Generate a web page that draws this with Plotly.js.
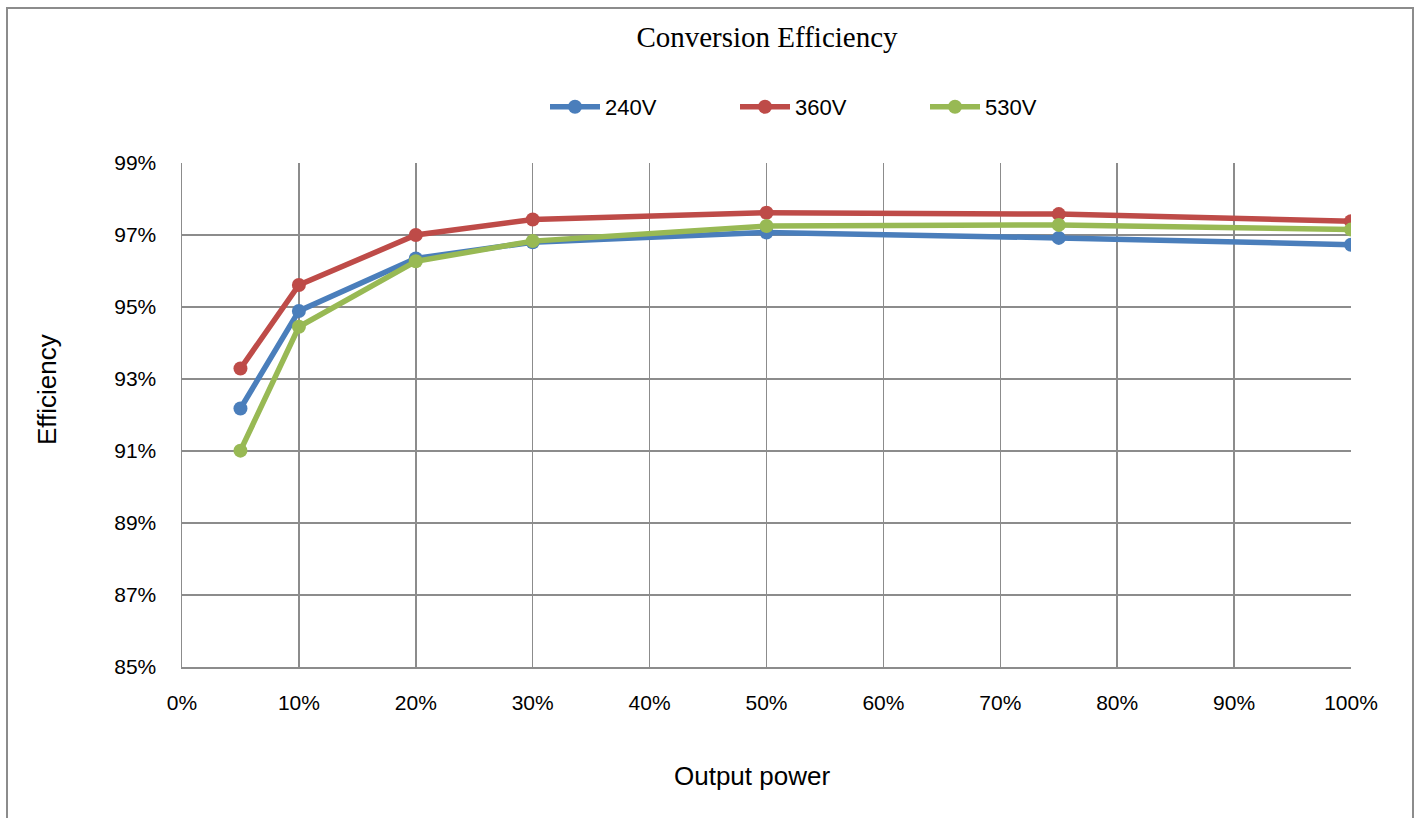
<!DOCTYPE html>
<html>
<head>
<meta charset="utf-8">
<script src="https://cdn.plot.ly/plotly-3.0.1.min.js"></script>
<style>
html,body{margin:0;padding:0;background:#fff;overflow:hidden;}
#chart{width:1421px;height:818px;}
</style>
</head>
<body>
<div id="chart"></div>
<script>
// Output power (%)
const outputPower = [5, 10, 20, 30, 50, 75, 100];
// Efficiency (%)
const eff240 = [92.18, 94.89, 96.35, 96.80, 97.07, 96.92, 96.73];
const eff360 = [93.29, 95.61, 97.00, 97.43, 97.62, 97.58, 97.38];
const eff530 = [91.01, 94.45, 96.27, 96.83, 97.25, 97.28, 97.15];
const seriesNames = ['240V', '360V', '530V'];
const seriesColors = ['#4A7EBB', '#BE4B48', '#98B954'];

const allSeries = [eff240, eff360, eff530];
const traces = allSeries.map((ys, i) => ({
  type: 'scatter',
  mode: 'lines+markers',
  name: seriesNames[i],
  x: outputPower,
  y: ys,
  line: {color: seriesColors[i], width: 5.5},
  marker: {color: seriesColors[i], size: 14}
}));

const gridColor = '#8c8c8c';
const sans = 'Liberation Sans, Arial, sans-serif';
const tickFont = {family: sans, size: 21, color: '#000'};

const layout = {
  width: 1421,
  height: 818,
  margin: {l: 182, r: 70, t: 163, b: 151},
  paper_bgcolor: '#fff',
  plot_bgcolor: '#fff',
  showlegend: true,
  title: {
    text: 'Conversion Efficiency',
    font: {family: 'Liberation Serif, DejaVu Serif, serif', size: 29, color: '#000'},
    x: (767 - 182) / 1169, xanchor: 'center', xref: 'paper',
    y: 1 - 37 / 818, yref: 'container', yanchor: 'middle'
  },
  legend: {
    orientation: 'h',
    x: (545 - 182) / 1169, xanchor: 'left',
    y: (667 - 107) / 504, yanchor: 'middle',
    font: {family: sans, size: 22, color: '#000'},
    entrywidth: 125,
    itemwidth: 50
  },
  xaxis: {
    range: [0, 100],
    dtick: 10,
    tick0: 0,
    ticksuffix: '%',
    showgrid: true,
    gridcolor: gridColor,
    gridwidth: 1.5,
    zeroline: false,
    showline: true,
    linecolor: gridColor,
    linewidth: 1.5,
    ticks: '',
    ticklabelstandoff: 16,
    tickfont: tickFont
  },
  yaxis: {
    range: [85, 99],
    dtick: 2,
    tick0: 85,
    ticksuffix: '%',
    showgrid: true,
    gridcolor: gridColor,
    gridwidth: 1.5,
    zeroline: false,
    showline: true,
    linecolor: gridColor,
    linewidth: 1.5,
    ticks: '',
    ticklabelstandoff: 20,
    tickfont: tickFont
  },
  annotations: [
    {
      text: 'Output power', xref: 'paper', yref: 'paper',
      x: (752 - 182) / 1169, y: (667 - 776) / 504,
      xanchor: 'center', yanchor: 'middle', showarrow: false,
      font: {family: sans, size: 26, color: '#000'}
    },
    {
      text: 'Efficiency', xref: 'paper', yref: 'paper',
      x: (47 - 182) / 1169, y: (667 - 390) / 504,
      xanchor: 'center', yanchor: 'middle', showarrow: false, textangle: -90,
      font: {family: sans, size: 26, color: '#000'}
    }
  ],
  shapes: [{
    type: 'rect', xref: 'paper', yref: 'paper',
    x0: (7 - 182) / 1169, x1: (1413 - 182) / 1169,
    y0: (667 - 900) / 504, y1: (667 - 8) / 504,
    line: {color: '#8c8c8c', width: 2},
    fillcolor: 'rgba(0,0,0,0)',
    layer: 'below'
  }]
};

Plotly.newPlot('chart', traces, layout, {displayModeBar: false, staticPlot: true});
</script>
</body>
</html>
